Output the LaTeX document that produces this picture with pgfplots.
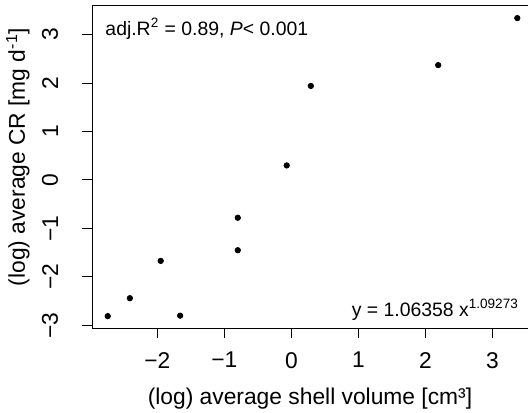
\documentclass[border=0pt]{standalone}
\usepackage{fontspec}
\setmainfont{Liberation Sans}
\usepackage{pgfplots}
\pgfplotsset{compat=1.18}

\begin{document}
\begin{tikzpicture}
\fontsize{11.4}{13.7}\selectfont
\begin{axis}[
    at={(0,0)}, anchor=south west,
    scale only axis, width=218pt, height=161pt,
    xmin=-2.975, xmax=3.53, ymin=-3.055, ymax=3.59,
    axis x line*=bottom, axis y line*=left,
    axis line style={line width=0.5pt},
    tick align=outside, major tick length=5pt,
    tick style={black, line width=0.5pt},
    xtick={-2,-1,0,1,2,3}, xticklabels={−2,−1,0,1,2,3},
    ytick={-3,-2,-1,0,1,2,3}, yticklabels={−3,−2,−1,0,1,2,3},
    xticklabel style={anchor=north, inner sep=0pt},
    xticklabel shift=6.85pt,
    yticklabel style={rotate=90, anchor=south, inner sep=0pt},
    yticklabel shift=11.75pt,
    xlabel={(log) average shell volume [cm³]},
    xlabel style={at={(axis description cs:0.5,-0.239)}, anchor=base},
    ylabel={(log) average CR [mg d\textsuperscript{-1}]},
    ylabel style={at={(axis description cs:-0.1537,0.531)}, anchor=base},
    clip=false,
  ]
  \addplot[only marks, mark=*, mark size=1.35pt, black] coordinates {
    (-2.74,-2.81) (-2.41,-2.44) (-1.95,-1.67) (-1.66,-2.80)
    (-0.80,-0.78) (-0.80,-1.45) (-0.07,0.30) (0.29,1.94)
    (2.19,2.37) (3.37,3.34)
  };
  \draw[line width=0.5pt] (rel axis cs:0,1) -- (rel axis cs:1,1);
  \node[anchor=base west, inner sep=0pt, font=\fontsize{9.7}{11.6}\selectfont]
    at (axis cs:-2.78,2.99)
    {adj.R\textsuperscript{2} = 0.89, \textit{P}< 0.001};
  \node[anchor=base east, inner sep=0pt, font=\fontsize{9.7}{11.6}\selectfont]
    at (axis cs:3.40,-2.81)
    {y = 1.06358 x\textsuperscript{1.09273}};
\end{axis}
\pgfresetboundingbox
\path (-46pt,-42pt) rectangle (218.5pt,164pt);
\end{tikzpicture}
\end{document}
